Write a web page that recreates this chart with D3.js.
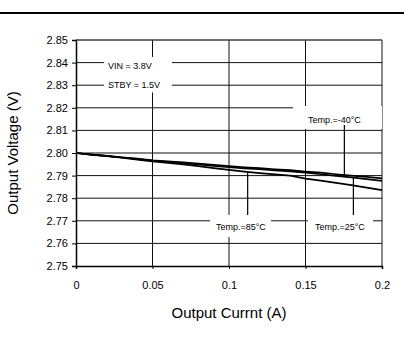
<!DOCTYPE html>
<html>
<head>
<meta charset="utf-8">
<script src="https://cdn.jsdelivr.net/npm/d3@7"></script>
<style>
  body { margin: 0; background: #fff; }
  svg text { font-family: "Liberation Sans", Arial, sans-serif; }
</style>
</head>
<body>
<div class="canvas"></div>
<script>
// data
const current = [0, 0.01, 0.02, 0.03, 0.04, 0.05, 0.06, 0.07, 0.08, 0.09, 0.1,
    0.11, 0.12, 0.13, 0.14, 0.15, 0.16, 0.17, 0.18, 0.19, 0.2];
const vMinus40 = [2.8, 2.7993, 2.7987, 2.7981, 2.7975, 2.7968, 2.7963, 2.7959, 2.7953, 2.7948, 2.7942,
    2.7937, 2.7933, 2.7928, 2.7924, 2.7918, 2.7913, 2.7906, 2.79, 2.7894, 2.7888];
const v25 = [2.8, 2.7993, 2.7987, 2.798, 2.7973, 2.7966, 2.7961, 2.7955, 2.7949, 2.7943, 2.7937,
    2.7932, 2.7928, 2.7923, 2.7919, 2.7913, 2.7906, 2.7899, 2.7892, 2.7884, 2.7877];
const v85 = [2.8, 2.7993, 2.7986, 2.7979, 2.7971, 2.7963, 2.7956, 2.795, 2.7942, 2.7933, 2.7925,
    2.7918, 2.7911, 2.7905, 2.79, 2.7887, 2.7878, 2.7868, 2.7858, 2.7847, 2.7836];

const xTicks = [0, 0.05, 0.1, 0.15, 0.2];
const yTicks = [2.75, 2.76, 2.77, 2.78, 2.79, 2.8, 2.81, 2.82, 2.83, 2.84, 2.85];

const width = 404, height = 342;
const margin = {top: 40, right: 22, bottom: 76, left: 76};
const graphWidth = width - margin.left - margin.right;
const graphHeight = height - margin.top - margin.bottom;

const svg = d3.select('.canvas')
    .append('svg')
    .attr('width', width)
    .attr('height', height);

// rule across the top of the page
svg.append('line')
    .attr('x1', 0).attr('x2', width)
    .attr('y1', 13).attr('y2', 13)
    .attr('stroke', '#000')
    .attr('stroke-width', 2);

const graph = svg.append('g')
    .attr('transform', `translate(${margin.left}, ${margin.top})`);

const x = d3.scaleLinear().domain([0, 0.2]).range([0, graphWidth]);
const y = d3.scaleLinear().domain([2.75, 2.85]).range([graphHeight, 0]);

// grid
graph.append('g').selectAll('line')
    .data(yTicks.slice(1))
    .enter().append('line')
    .attr('x1', 0).attr('x2', graphWidth)
    .attr('y1', d => y(d)).attr('y2', d => y(d))
    .attr('stroke', '#111').attr('stroke-width', 1);

graph.append('g').selectAll('line')
    .data(xTicks.slice(1))
    .enter().append('line')
    .attr('x1', d => x(d)).attr('x2', d => x(d))
    .attr('y1', 0).attr('y2', graphHeight)
    .attr('stroke', '#111').attr('stroke-width', 1);

// white label boxes that cut the grid
const boxes = [
    {x0: 0.0183, x1: 0.0627, v0: 2.8425, v1: 2.8268},
    {x0: 0.1418, x1: 0.2, v0: 2.8208, v1: 2.8106},
    {x0: 0.0876, x1: 0.1275, v0: 2.7726, v1: 2.7628},
    {x0: 0.1516, x1: 0.1941, v0: 2.7726, v1: 2.7628}
];
graph.append('g').selectAll('rect')
    .data(boxes)
    .enter().append('rect')
    .attr('x', d => x(d.x0))
    .attr('y', d => y(d.v0))
    .attr('width', d => x(d.x1) - x(d.x0))
    .attr('height', d => y(d.v1) - y(d.v0))
    .attr('fill', '#fff');

// axes
const xAxis = d3.axisBottom(x).tickValues(xTicks).tickSize(3).tickPadding(12)
    .tickFormat(d => d3.format('')(d));
const yAxis = d3.axisLeft(y).tickValues(yTicks).tickSize(4).tickPadding(4)
    .tickFormat(d3.format('.2f'));

const xAxisGroup = graph.append('g')
    .attr('transform', `translate(0, ${graphHeight})`)
    .call(xAxis);
const yAxisGroup = graph.append('g').call(yAxis);

[xAxisGroup, yAxisGroup].forEach(g => {
    g.select('.domain').attr('stroke', '#000').attr('stroke-width', 1.5);
    g.selectAll('.tick line').attr('stroke', '#000');
    g.selectAll('text').attr('font-size', 11).attr('fill', '#000')
        .style('font-family', '"Liberation Sans", Arial, sans-serif');
});

// top border
graph.append('line')
    .attr('x1', 0).attr('x2', graphWidth)
    .attr('y1', y(2.85)).attr('y2', y(2.85))
    .attr('stroke', '#555');

// curves
const line = d3.line()
    .x((d, i) => x(current[i]))
    .y(d => y(d));

graph.append('g').selectAll('path')
    .data([vMinus40, v25, v85])
    .enter().append('path')
    .attr('d', line)
    .attr('fill', 'none')
    .attr('stroke', '#000')
    .attr('stroke-width', 1.7);

// leader lines
const leaders = [
    {x: 0.1754, v0: 2.8124, v1: 2.7903},
    {x: 0.1122, v0: 2.7912, v1: 2.7726},
    {x: 0.1813, v0: 2.7889, v1: 2.7726}
];
graph.append('g').selectAll('line')
    .data(leaders)
    .enter().append('line')
    .attr('x1', d => x(d.x)).attr('x2', d => x(d.x))
    .attr('y1', d => y(d.v0)).attr('y2', d => y(d.v1))
    .attr('stroke', '#000').attr('stroke-width', 1.2);

// labels
const notes = [
    {text: 'VIN = 3.8V', x: 0.0209, v: 2.837},
    {text: 'STBY = 1.5V', x: 0.0209, v: 2.8288},
    {text: 'Temp.=-40\u00b0C', x: 0.1516, v: 2.8134},
    {text: 'Temp.=85\u00b0C', x: 0.0915, v: 2.7659},
    {text: 'Temp.=25\u00b0C', x: 0.1562, v: 2.7659}
];
graph.append('g').selectAll('text')
    .data(notes)
    .enter().append('text')
    .attr('x', d => x(d.x))
    .attr('y', d => y(d.v))
    .attr('font-size', 9)
    .attr('fill', '#000')
    .text(d => d.text);

// axis titles
svg.append('text')
    .attr('x', margin.left + graphWidth / 2)
    .attr('y', 318)
    .attr('text-anchor', 'middle')
    .attr('font-size', 15)
    .text('Output Currnt (A)');

svg.append('text')
    .attr('transform', `translate(18, ${margin.top + graphHeight / 2}) rotate(-90)`)
    .attr('text-anchor', 'middle')
    .attr('font-size', 15)
    .text('Output Voltage (V)');
</script>
</body>
</html>
